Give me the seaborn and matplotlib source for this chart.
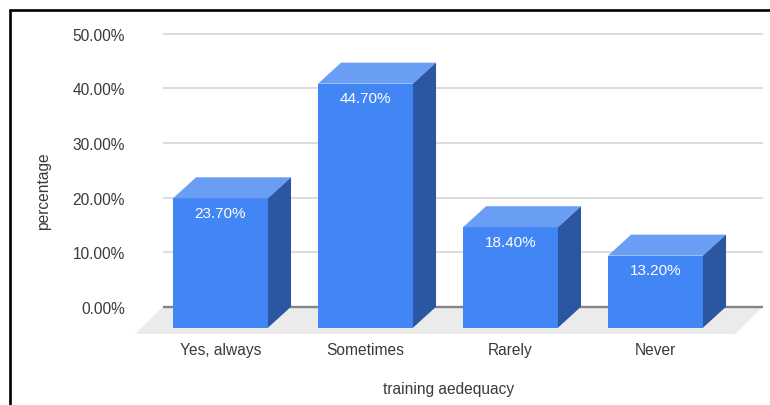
import matplotlib
matplotlib.use("Agg")
import matplotlib.pyplot as plt
from matplotlib.lines import Line2D
import seaborn as sns
import pandas as pd

# Survey answers and their shares (percent)
categories = ["Yes, always", "Sometimes", "Rarely", "Never"]
values = [23.7, 44.7, 18.4, 13.2]
y_ticks = [0, 10, 20, 30, 40, 50]

x_title = "training aedequacy"
y_title = "percentage"

# Colours of the extruded bars
FRONT = "#4285F4"
TOP = "#6A9EF5"
SIDE = "#2B56A2"
FLOOR = "#EBEBEB"
GRID = "#D9D9D9"
BASE = "#858585"
TEXT = "#3A3A3A"

# Depth of the pseudo-3D extrusion (x in category units, y in percent units)
DX = 0.159
DY = 3.85
BAR_W = 0.655

sns.set_style("white")
plt.rcParams["font.family"] = ["Liberation Sans", "DejaVu Sans"]

fig = plt.figure(figsize=(7.7, 4.06), dpi=100)
ax = fig.add_axes([0.1753, 0.1749, 0.8156, 0.7759])

xlim = (-0.5897, 3.7414)
ylim = (-5.0, 52.7)
grid_left = -0.3966

df = pd.DataFrame({"answer": categories, "share": values})

# Front faces of the bars
sns.barplot(data=df, x="answer", y="share", color=FRONT, saturation=1,
            width=BAR_W, linewidth=0, edgecolor="none", ax=ax, zorder=3)
bars = list(ax.containers[0].patches)
for p in bars:
    p.set_y(-DY)  # push the front face forward (down) by the extrusion depth

# Floor under the bars
ax.fill([grid_left, xlim[1], xlim[1] - (grid_left - xlim[0]), xlim[0]],
        [0, 0, ylim[0], ylim[0]], color=FLOOR, lw=0, zorder=0)

# Gridlines on the back wall
ax.hlines([t for t in y_ticks if t > 0], grid_left, xlim[1], color=GRID, lw=1.3, zorder=1)
ax.hlines([0], grid_left, xlim[1], color=BASE, lw=1.7, zorder=1)

# Top and side faces, plus value labels
for i, (p, v) in enumerate(zip(bars, values)):
    x0 = p.get_x()
    x1 = x0 + p.get_width()
    yt = v - DY
    yb = -DY
    ax.fill([x0, x1, x1 + DX, x0 + DX], [yt, yt, yt + DY, yt + DY],
            color=TOP, lw=0, zorder=3)
    ax.fill([x1, x1 + DX, x1 + DX, x1], [yt, yt + DY, yb + DY, yb],
            color=SIDE, lw=0, zorder=3)
    ax.annotate(f"{v:.2f}%", xy=((x0 + x1) / 2, yt), xytext=(0, -5.3),
                textcoords="offset points", ha="center", va="top",
                color="white", fontsize=11, zorder=4)

ax.set_xlim(*xlim)
ax.set_ylim(*ylim)
ax.set_yticks(y_ticks)
ax.set_yticklabels([f"{t:.2f}%" for t in y_ticks])
ax.tick_params(axis="y", length=0, pad=7.2, labelsize=11.2, labelcolor=TEXT)
ax.tick_params(axis="x", length=0, pad=6, labelsize=11.2, labelcolor=TEXT)
for s in ax.spines.values():
    s.set_visible(False)
ax.grid(False)

ax.set_xlabel(x_title, fontsize=11.2, color=TEXT, labelpad=17)
ax.set_ylabel(y_title, fontsize=11.2, color=TEXT)
ax.yaxis.set_label_coords((43.5 - 135) / 628, (335 - 191) / 315)
ax.yaxis.label.set_va("center")

# Dark frame along the top and left edges
fig.add_artist(Line2D([10 / 770, 10 / 770], [0, 1 - 11 / 406], color="black",
                      lw=1.9, transform=fig.transFigure))
fig.add_artist(Line2D([10 / 770, 1], [1 - 11 / 406, 1 - 11 / 406], color="black",
                      lw=1.9, transform=fig.transFigure))

fig.savefig("out.png", dpi=100)
